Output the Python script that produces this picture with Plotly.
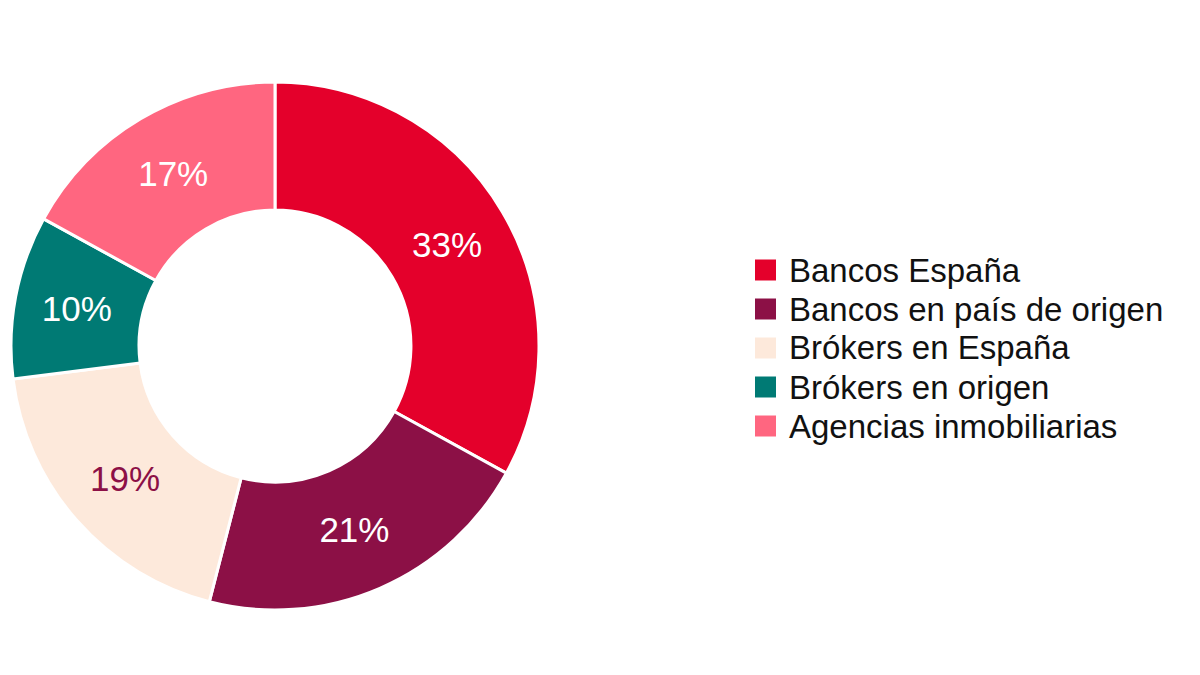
import plotly.graph_objects as go

labels = ["Bancos España", "Bancos en país de origen", "Brókers en España",
          "Brókers en origen", "Agencias inmobiliarias"]
values = [33, 21, 19, 10, 17]
colors = ["#E4002B", "#8C1046", "#FDE9DB", "#007A74", "#FF6680"]
text_colors = ["white", "white", "#8C1046", "white", "white"]

W, H = 1200, 675
FONT = "Liberation Sans, Arial"

fig = go.Figure()
fig.add_trace(
    go.Pie(labels=labels, values=values, hole=0.515,
           sort=False, direction="clockwise", rotation=0,
           marker=dict(colors=colors, line=dict(color="white", width=3)),
           texttemplate="%{value}%", textposition="inside",
           insidetextorientation="horizontal",
           textfont=dict(family=FONT, size=35, color=text_colors),
           domain=dict(x=[3 / W, 531 / W], y=[1 - 602 / H, 1 - 74 / H]),
           hoverinfo="label+percent", showlegend=False)
)

# legend drawn by hand so the swatches match the bigger squares
# (page body has an 8px margin, positions below account for it)
for i, (lab, col) in enumerate(zip(labels, colors)):
    yc = 262 + 39 * i
    fig.add_shape(type="rect", xref="paper", yref="paper",
                  x0=747 / W, x1=768 / W,
                  y0=1 - (yc + 10.5) / H, y1=1 - (yc - 10.5) / H,
                  fillcolor=col, line=dict(width=0))
    fig.add_annotation(x=779 / W, y=1 - yc / H, xref="paper", yref="paper",
                       text=lab, showarrow=False, xanchor="left", yanchor="middle",
                       font=dict(family=FONT, size=33, color="#111111"))

fig.update_layout(
    width=W, height=H,
    margin=dict(t=0, b=0, l=0, r=0),
    paper_bgcolor="white", plot_bgcolor="white",
    font=dict(family=FONT, color="#111111"),
    showlegend=False,
)
fig.write_html("out.html")
